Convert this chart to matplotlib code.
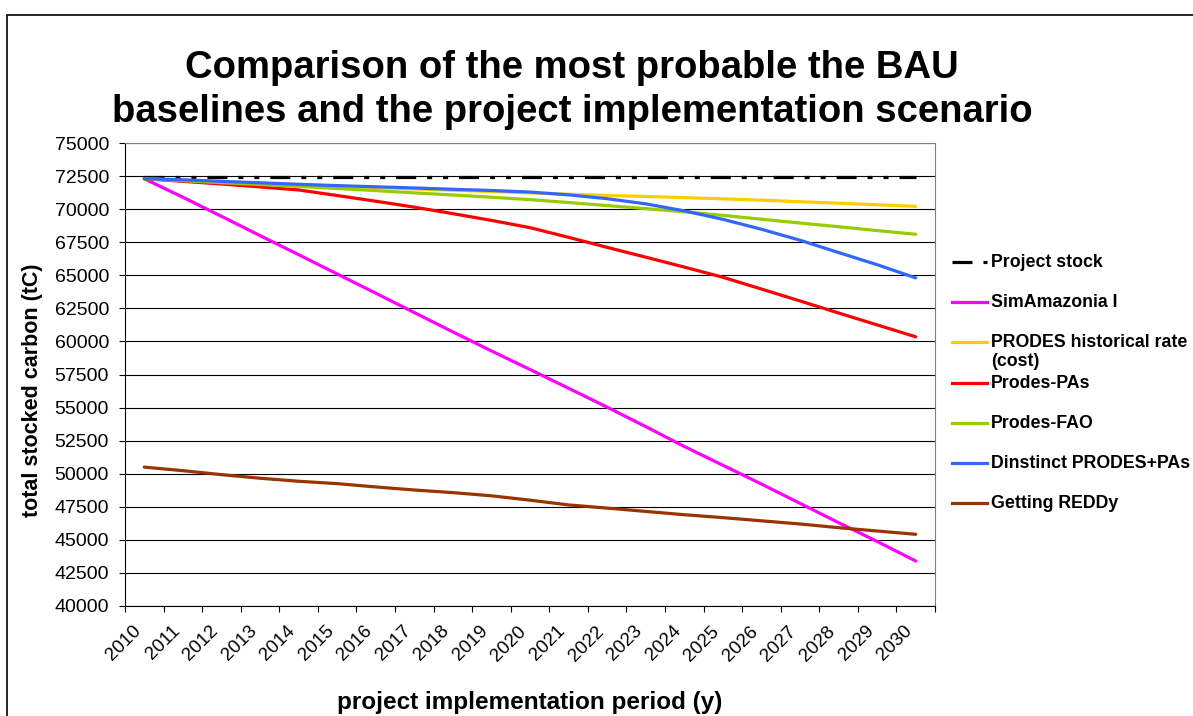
import numpy as np
import matplotlib
matplotlib.use('Agg')
import matplotlib.pyplot as plt
from matplotlib.lines import Line2D
from matplotlib.patches import Rectangle
from matplotlib.transforms import ScaledTranslation

plt.rcParams['font.family'] = ['Liberation Sans', 'DejaVu Sans']
plt.rcParams['lines.scale_dashes'] = False

years = [str(y) for y in range(2010, 2031)]

project_stock = [72450] * 21
sim_amazonia = [72300, 70900, 69460, 68000, 66560, 65100, 63650, 62180, 60720, 59280, 57880,
                56460, 55030, 53560, 52060, 50640, 49220, 47760, 46300, 44880, 43400]
prodes_hist = [72300, 72180, 72060, 71950, 71840, 71730, 71630, 71530, 71430, 71330, 71230,
               71130, 71030, 70960, 70870, 70780, 70680, 70560, 70450, 70330, 70210]
prodes_pas = [72300, 72100, 71900, 71680, 71450, 71030, 70600, 70150, 69660, 69150, 68600,
              67870, 67110, 66370, 65620, 64850, 63960, 63060, 62150, 61250, 60350]
prodes_fao = [72300, 72150, 72000, 71860, 71720, 71560, 71400, 71230, 71070, 70900, 70720,
              70500, 70270, 70040, 69800, 69530, 69240, 68950, 68670, 68380, 68100]
distinct_pas = [72300, 72220, 72100, 71990, 71880, 71780, 71690, 71600, 71500, 71410, 71290,
                71080, 70790, 70400, 69870, 69230, 68480, 67650, 66720, 65800, 64800]
getting_reddy = [50500, 50230, 49930, 49660, 49430, 49250, 49000, 48770, 48570, 48330, 48000,
                 47640, 47400, 47150, 46900, 46680, 46440, 46200, 45920, 45670, 45420]

series = [
    ('Project stock', project_stock, 'black'),
    ('SimAmazonia I', sim_amazonia, '#FF00FF'),
    ('PRODES historical rate\n(cost)', prodes_hist, '#FFCC00'),
    ('Prodes-PAs', prodes_pas, '#FF0000'),
    ('Prodes-FAO', prodes_fao, '#99CC00'),
    ('Dinstinct PRODES+PAs', distinct_pas, '#3366FF'),
    ('Getting REDDy', getting_reddy, '#993300'),
]
dash = (0, (14.4, 7.9, 3.6, 7.9, 3.6, 7.9))

W, H = 1193, 716
fig = plt.figure(figsize=(11.93, 7.16), dpi=100)
ax = fig.add_axes([125 / W, 1 - 606 / H, 810 / W, 463 / H])

x = np.arange(len(years))
for name, vals, col in series:
    ls = dash if name == 'Project stock' else '-'
    ax.plot(x, vals, color=col, lw=2.3, ls=ls, solid_capstyle='round')

ax.set_xlim(-0.5, len(years) - 0.5)
ax.set_ylim(40000, 75000)
ax.set_yticks(np.arange(40000, 75001, 2500))
ax.yaxis.grid(True, color='black', lw=0.8)
ax.set_axisbelow(True)
ax.tick_params(axis='y', direction='out', length=4.5, width=0.8, pad=7, labelsize=14)

ax.set_xticks(x)
ax.set_xticklabels(years, rotation=45, ha='right', va='top', rotation_mode='anchor')
ax.set_xticks(np.arange(-0.5, len(years)), minor=True)
ax.tick_params(axis='x', which='major', length=0, pad=12, labelsize=13.5)
ax.tick_params(axis='x', which='minor', direction='out', length=4.5, width=0.8)
shift = ScaledTranslation(-12 / 100, 0, fig.dpi_scale_trans)
for lab in ax.get_xticklabels():
    lab.set_transform(lab.get_transform() + shift)

for s in ['top', 'right']:
    ax.spines[s].set_color('#808080')
for s in ['left', 'bottom']:
    ax.spines[s].set_color('black')

fig.text(33 / W, 1 - 390 / H, 'total stocked carbon (tC)', rotation=90, ha='center', va='center',
         fontsize=15.5, fontweight='bold')
fig.text(530 / W, 1 - 702 / H, 'project implementation period (y)', ha='center', va='center',
         fontsize=17.5, fontweight='bold')

fig.text(572 / W, 1 - 90 / H,
         'Comparison of the most probable the BAU\nbaselines and the project implementation scenario',
         ha='center', va='center', fontsize=27.5, fontweight='bold', linespacing=1.25)

# legend, drawn by hand so the two-line entry keeps the same spacing
for k, (name, vals, col) in enumerate(series):
    yc = 262 + k * 40.2
    ls = dash if name == 'Project stock' else '-'
    fig.add_artist(Line2D([952 / W, 987 / W], [1 - yc / H, 1 - yc / H], color=col, lw=2.3, ls=ls,
                          transform=fig.transFigure))
    fig.text(991 / W, 1 - (yc - 8) / H, name, ha='left', va='top', fontsize=12.8,
             fontweight='bold', linespacing=1.1)

# outer chart border
fig.add_artist(Rectangle((7 / W, -0.1), 1.2, 1.1 - 15 / H, transform=fig.transFigure,
                         fill=False, ec='black', lw=1.2))

fig.savefig('out.png', dpi=100)
